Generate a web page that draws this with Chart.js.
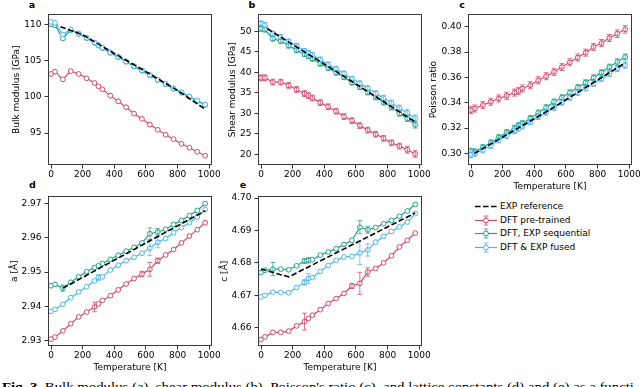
<!DOCTYPE html>
<html><head><meta charset="utf-8">
<script src="https://cdn.jsdelivr.net/npm/chart.js@4.4.1/dist/chart.umd.min.js"></script>
<style>
html,body{margin:0;padding:0;width:640px;height:387px;overflow:hidden;background:#fff;}
body{position:relative;font-family:'DejaVu Sans',sans-serif;color:#000;}
canvas{position:absolute;}
.plab{position:absolute;font-weight:bold;font-size:9.5px;line-height:10px;transform:translate(-50%,-50%);}
#legend{position:absolute;left:474px;top:200px;font-size:9px;}
.lrow{position:absolute;left:0;height:13px;white-space:nowrap;}
.lrow svg{position:absolute;left:0;top:0;}
.lrow span{position:absolute;left:26px;top:0;line-height:13px;}
#caption{position:absolute;left:2px;top:380px;white-space:nowrap;font-family:'Liberation Serif','DejaVu Serif',serif;font-size:12.5px;line-height:14px;transform-origin:0 0;}
</style></head><body>
<div class="plab" style="left:32px;top:5px">a</div>
<div class="plab" style="left:252px;top:5px">b</div>
<div class="plab" style="left:462px;top:5px">c</div>
<div class="plab" style="left:32.5px;top:185px">d</div>
<div class="plab" style="left:243px;top:185px">e</div>
<div id="legend"></div>
<div id="caption"><b>Fig. 3</b>&nbsp; Bulk modulus (a), shear modulus (b), Poisson's ratio (c), and lattice constants (d) and (e) as a functi</div>
<script>
// ---------------- data ----------------
const temps = [0, 25, 75, 125, 175, 225, 275, 300, 325, 375, 425, 475, 525, 575, 625, 675, 725, 775, 825, 875, 925, 975];
const xTicks = [0, 200, 400, 600, 800, 1000];
const seriesNames = ['EXP reference', 'DFT pre-trained', 'DFT, EXP sequential', 'DFT & EXP fused'];

// a: bulk modulus [GPa]
const bulkPre = [103.17, 103.49, 102.43, 103.58, 103.17, 102.57, 101.93, 101.47, 101.06, 100.18, 99.40, 98.58, 97.70, 96.97, 96.19, 95.46, 94.77, 94.17, 93.53, 92.98, 92.43, 91.88];
const bulkSeq = [110.05, 109.90, 108.07, 109.25, 108.72, 108.12, 107.47, 107.11, 106.74, 106.10, 105.50, 104.86, 104.22, 103.62, 102.98, 102.34, 101.74, 101.14, 100.59, 100.00, 99.45, 98.89];
const bulkFus = [110.37, 110.23, 108.62, 109.31, 108.76, 108.17, 107.52, 107.16, 106.79, 106.15, 105.55, 104.91, 104.27, 103.67, 103.03, 102.39, 101.79, 101.19, 100.64, 100.05, 99.50, 98.94];
const bulkExpT = [60, 200, 400, 600, 800, 975];
const bulkExp = [109.7, 108.6, 106.0, 103.5, 100.9, 98.3];
const bulkTicks = [95, 100, 105, 110];

// b: shear modulus [GPa]
const shearPre = [38.65, 38.65, 37.6, 37.6, 36.8, 35.8, 34.8, 34.3, 33.7, 32.6, 31.6, 30.5, 29.2, 28.2, 27.0, 25.9, 24.9, 23.9, 22.8, 22.0, 21.1, 20.1];
const shearSeq = [50.6, 50.4, 48.2, 47.6, 46.5, 45.4, 44.4, 43.9, 43.3, 42.1, 41.1, 39.9, 38.8, 37.5, 36.4, 35.1, 33.9, 32.7, 31.5, 30.0, 28.7, 27.2];
const shearFus = [51.9, 51.5, 49.4, 48.6, 47.5, 46.4, 45.2, 44.7, 44.2, 43.1, 41.9, 40.8, 39.7, 38.4, 37.3, 36.1, 34.8, 33.7, 32.5, 31.3, 30.1, 28.8];
const shearPreErr = [0.7, 0.7, 0.7, 0.7, 0.7, 0.7, 0.7, 0.7, 0.7, 0.7, 0.7, 0.7, 0.7, 0.7, 0.7, 0.7, 0.7, 0.7, 0.7, 0.7, 0.8, 0.8];
const shearSeqErr = [0.6, 0.6, 0.6, 0.6, 0.6, 0.6, 0.6, 0.6, 0.6, 0.6, 0.6, 0.6, 0.6, 0.6, 0.6, 0.6, 0.6, 0.7, 0.7, 0.7, 0.7, 0.8];
const shearFusErr = [0.6, 0.6, 0.6, 0.6, 0.6, 0.6, 0.6, 0.6, 0.6, 0.6, 0.6, 0.6, 0.6, 0.6, 0.6, 0.6, 0.7, 0.7, 0.7, 0.7, 0.8, 0.8];
const shearExpT = [40, 500, 975];
const shearExp = [50.6, 39.6, 27.9];
const shearTicks = [20, 25, 30, 35, 40, 45, 50];

// c: Poisson ratio
const poisPre = [0.3341, 0.3354, 0.3381, 0.3407, 0.3433, 0.3454, 0.3480, 0.3493, 0.3512, 0.3538, 0.3577, 0.3609, 0.3643, 0.3682, 0.3719, 0.3756, 0.3795, 0.3840, 0.3871, 0.3911, 0.3945, 0.3979];
const poisSeq = [0.3018, 0.3013, 0.3047, 0.3084, 0.3126, 0.3165, 0.3199, 0.3220, 0.3236, 0.3276, 0.3320, 0.3362, 0.3407, 0.3441, 0.3480, 0.3520, 0.3559, 0.3598, 0.3638, 0.3682, 0.3722, 0.3761];
const poisFus = [0.2987, 0.3000, 0.3026, 0.3060, 0.3105, 0.3139, 0.3178, 0.3197, 0.3215, 0.3249, 0.3289, 0.3323, 0.3362, 0.3402, 0.3441, 0.3480, 0.3514, 0.3551, 0.3590, 0.3630, 0.3669, 0.3696];
const poisPreErr = [0.0028, 0.0028, 0.0028, 0.0028, 0.0028, 0.0028, 0.0028, 0.0028, 0.0028, 0.0028, 0.0028, 0.0028, 0.0028, 0.0028, 0.0028, 0.0028, 0.0028, 0.0028, 0.0028, 0.0028, 0.0030, 0.0030];
const poisSeqErr = [0.0022, 0.0022, 0.0022, 0.0022, 0.0022, 0.0022, 0.0022, 0.0022, 0.0022, 0.0022, 0.0022, 0.0022, 0.0022, 0.0022, 0.0022, 0.0022, 0.0022, 0.0022, 0.0022, 0.0022, 0.0024, 0.0024];
const poisFusErr = [0.0022, 0.0022, 0.0022, 0.0022, 0.0022, 0.0022, 0.0022, 0.0022, 0.0022, 0.0022, 0.0022, 0.0022, 0.0022, 0.0022, 0.0022, 0.0022, 0.0022, 0.0022, 0.0022, 0.0022, 0.0024, 0.0024];
const poisExpT = [20, 500, 975];
const poisExp = [0.2998, 0.3345, 0.3715];
const poisTicks = [0.30, 0.32, 0.34, 0.36, 0.38, 0.40];

// d: lattice constant a [Å]
const aPre = [2.9304, 2.9310, 2.9328, 2.9349, 2.9369, 2.9383, 2.9398, 2.9407, 2.9417, 2.9431, 2.9448, 2.9465, 2.9481, 2.9494, 2.9508, 2.9533, 2.9550, 2.9566, 2.9585, 2.9605, 2.9624, 2.9644];
const aSeq = [2.9460, 2.9464, 2.9453, 2.9470, 2.9486, 2.9501, 2.9513, 2.9518, 2.9525, 2.9537, 2.9549, 2.9561, 2.9572, 2.9585, 2.9612, 2.9617, 2.9625, 2.9639, 2.9651, 2.9665, 2.9680, 2.9700];
const aFus = [2.9385, 2.9391, 2.9406, 2.9425, 2.9442, 2.9457, 2.9474, 2.9484, 2.9486, 2.9506, 2.9520, 2.9533, 2.9543, 2.9555, 2.9570, 2.9587, 2.9598, 2.9615, 2.9630, 2.9644, 2.9661, 2.9683];
const aPreErr = [0, 0, 0, 0, 0, 0, 0.0014, 0, 0, 0, 0, 0, 0, 0.0008, 0.0020, 0.0008, 0, 0, 0, 0, 0, 0];
const aSeqErr = [0, 0, 0.0009, 0, 0, 0, 0, 0, 0, 0, 0, 0, 0, 0, 0.0017, 0.0010, 0, 0, 0, 0, 0, 0];
const aFusErr = [0, 0, 0, 0, 0, 0, 0, 0.0008, 0, 0, 0, 0, 0, 0, 0.0022, 0.0016, 0, 0, 0, 0, 0, 0];
const aExpT = [75, 975];
const aExp = [2.9453, 2.9679];
const aTicks = [2.93, 2.94, 2.95, 2.96, 2.97];

// e: lattice constant c [Å]
const cPre = [4.6564, 4.6572, 4.6586, 4.6586, 4.6590, 4.6606, 4.6619, 4.6629, 4.6639, 4.6656, 4.6675, 4.6690, 4.6706, 4.6729, 4.6737, 4.6772, 4.6783, 4.6800, 4.6822, 4.6849, 4.6870, 4.6892];
const cSeq = [4.6770, 4.6777, 4.6781, 4.6781, 4.6779, 4.6791, 4.6806, 4.6808, 4.6810, 4.6824, 4.6834, 4.6844, 4.6857, 4.6870, 4.6910, 4.6902, 4.6909, 4.6921, 4.6931, 4.6944, 4.6960, 4.6980];
const cFus = [4.6695, 4.6700, 4.6710, 4.6709, 4.6708, 4.6724, 4.6740, 4.6752, 4.6755, 4.6774, 4.6792, 4.6808, 4.6818, 4.6820, 4.6831, 4.6840, 4.6864, 4.6882, 4.6897, 4.6911, 4.6926, 4.6952];
const cPreErr = [0, 0, 0, 0, 0, 0, 0.0026, 0, 0, 0, 0, 0, 0, 0.0008, 0.0034, 0.0013, 0, 0, 0, 0, 0, 0];
const cSeqErr = [0, 0, 0.0020, 0, 0, 0, 0.0007, 0.0008, 0, 0, 0, 0, 0, 0, 0.0020, 0.0010, 0, 0, 0, 0, 0, 0];
const cFusErr = [0, 0, 0, 0, 0, 0, 0.0008, 0.0015, 0, 0, 0, 0, 0, 0, 0.0036, 0.0019, 0, 0, 0, 0, 0, 0];
const cExpT = [0, 175, 975];
const cExp = [4.6781, 4.6757, 4.6954];
const cTicks = [4.66, 4.67, 4.68, 4.69, 4.70];

// ---------------- style ----------------
const RED = '#D0486A', GREEN = '#24A08A', BLUE = '#4DB4E8';
const RED_E = 'rgba(208,72,106,0.75)', GREEN_E = 'rgba(36,160,138,0.75)', BLUE_E = 'rgba(77,180,232,0.75)';
Chart.defaults.font.family = "'DejaVu Sans', sans-serif";
Chart.defaults.font.size = 9;
Chart.defaults.color = '#000';

const WY = 46, TP = 8, RP = 14, HX = 30;

const frame = {
  id: 'frame',
  afterDraw(chart) {
    const {ctx, chartArea: a} = chart;
    ctx.save();
    ctx.strokeStyle = '#3c3c3c';
    ctx.lineWidth = 1;
    ctx.strokeRect(Math.round(a.left) + 0.5, Math.round(a.top) + 0.5, Math.round(a.right - a.left) - 1, Math.round(a.bottom - a.top) - 1);
    ctx.restore();
  }
};
const errorBars = {
  id: 'errorBars',
  afterDatasetDraw(chart, args) {
    const ds = chart.data.datasets[args.index];
    if (!ds.errors) return;
    const {ctx, scales: {x, y}, chartArea: a} = chart;
    ctx.save();
    ctx.beginPath(); ctx.rect(a.left, a.top, a.right - a.left, a.bottom - a.top); ctx.clip();
    ctx.strokeStyle = ds.errColor; ctx.lineWidth = 1;
    ds.data.forEach((p, i) => {
      const e = ds.errors[i]; if (!e) return;
      const px = x.getPixelForValue(p.x), y1 = y.getPixelForValue(p.y - e), y2 = y.getPixelForValue(p.y + e);
      ctx.beginPath();
      ctx.moveTo(px, y1); ctx.lineTo(px, y2);
      ctx.moveTo(px - 2.5, y1); ctx.lineTo(px + 2.5, y1);
      ctx.moveTo(px - 2.5, y2); ctx.lineTo(px + 2.5, y2);
      ctx.stroke();
    });
    ctx.restore();
  }
};

function pts(xs, ys) { return xs.map((x, i) => ({x: x, y: ys[i]})); }
function modelDs(label, ys, errs, color, ecolor) {
  return {label, data: pts(temps, ys), errors: errs, errColor: ecolor, borderColor: color, backgroundColor: '#fff',
    borderWidth: 1.2, pointRadius: 2.4, pointBorderWidth: 1, pointBackgroundColor: '#fff', pointBorderColor: color, tension: 0};
}

function panel(cfg) {
  const c = document.createElement('canvas');
  const w = WY + (cfg.box[2] - cfg.box[0]) + RP;
  const h = TP + (cfg.box[3] - cfg.box[1]) + HX;
  c.width = w; c.height = h;
  c.style.left = (cfg.box[0] - WY) + 'px';
  c.style.top = (cfg.box[1] - TP) + 'px';
  c.style.width = w + 'px'; c.style.height = h + 'px';
  document.body.appendChild(c);
  const tickGrid = {display: true, drawOnChartArea: false, drawTicks: true, tickLength: 3.5, tickColor: '#333', tickWidth: 1, color: '#333'};
  new Chart(c, {
    type: 'line',
    data: {datasets: [
      {label: seriesNames[0], data: pts(cfg.expT, cfg.exp), borderColor: '#000', borderDash: [5.5, 2.5], borderWidth: 1.6, pointRadius: 0, tension: 0},
      modelDs(seriesNames[3], cfg.fus, cfg.fusErr, BLUE, BLUE_E),
      modelDs(seriesNames[2], cfg.seq, cfg.seqErr, GREEN, GREEN_E),
      modelDs(seriesNames[1], cfg.pre, cfg.preErr, RED, RED_E)
    ]},
    options: {
      responsive: false, animation: false, devicePixelRatio: 1,
      layout: {padding: {left: 0, top: TP, right: RP, bottom: 0}},
      plugins: {legend: {display: false}, tooltip: {enabled: false}},
      events: [],
      scales: {
        x: {type: 'linear', min: -19, max: 1018,
          afterBuildTicks: s => { s.ticks = xTicks.map(v => ({value: v})); },
          afterFit: s => { s.height = HX; },
          ticks: {padding: 1, maxRotation: 0, autoSkip: false, callback: v => String(v)},
          grid: tickGrid, border: {display: false},
          title: {display: !!cfg.xTitle, text: 'Temperature [K]', font: {size: 9}, padding: {top: 0, bottom: 3}}
        },
        y: {type: 'linear', min: cfg.yMin, max: cfg.yMax,
          afterBuildTicks: s => { s.ticks = cfg.yTicks.map(v => ({value: v})); },
          afterFit: s => { s.width = WY; },
          ticks: {padding: 3, autoSkip: false, callback: v => Number(v).toFixed(cfg.dec)},
          grid: tickGrid, border: {display: false},
          title: {display: true, text: cfg.yTitle, font: {size: 9}, padding: {top: cfg.tpad, bottom: 0}}
        }
      }
    },
    plugins: [errorBars, frame]
  });
}

panel({box: [48, 14, 212, 165], yMin: 90.6, yMax: 111.4, yTicks: bulkTicks, dec: 0, yTitle: 'Bulk modulus [GPa]', tpad: 9.6,
  pre: bulkPre, seq: bulkSeq, fus: bulkFus, preErr: null, seqErr: null, fusErr: null, expT: bulkExpT, exp: bulkExp});
panel({box: [258, 14, 422, 165], yMin: 17.4, yMax: 54.1, yTicks: shearTicks, dec: 0, yTitle: 'Shear modulus [GPa]', tpad: 15.3,
  pre: shearPre, seq: shearSeq, fus: shearFus, preErr: shearPreErr, seqErr: shearSeqErr, fusErr: shearFusErr, expT: shearExpT, exp: shearExp});
panel({box: [468, 14, 632, 165], yMin: 0.2908, yMax: 0.4097, yTicks: poisTicks, dec: 2, yTitle: 'Poisson ratio', tpad: 5.9, xTitle: true,
  pre: poisPre, seq: poisSeq, fus: poisFus, preErr: poisPreErr, seqErr: poisSeqErr, fusErr: poisFusErr, expT: poisExpT, exp: poisExp});
panel({box: [48, 196, 212, 346], yMin: 2.9284, yMax: 2.9721, yTicks: aTicks, dec: 2, yTitle: 'a [Å]', tpad: 7.6, xTitle: true,
  pre: aPre, seq: aSeq, fus: aFus, preErr: aPreErr, seqErr: aSeqErr, fusErr: aFusErr, expT: aExpT, exp: aExp});
panel({box: [258, 196, 422, 346], yMin: 4.6544, yMax: 4.7005, yTicks: cTicks, dec: 2, yTitle: 'c [Å]', tpad: 7.6, xTitle: true,
  pre: cPre, seq: cSeq, fus: cFus, preErr: cPreErr, seqErr: cSeqErr, fusErr: cFusErr, expT: cExpT, exp: cExp});

// legend
const legend = document.getElementById('legend');
const legColors = [null, [RED, RED_E], [GREEN, GREEN_E], [BLUE, BLUE_E]];
const rowTops = [0, 13.5, 27, 40.5];
seriesNames.forEach((name, i) => {
  const row = document.createElement('div');
  row.className = 'lrow';
  row.style.top = rowTops[i] + 'px';
  let svg;
  if (i === 0) {
    svg = '<svg width="24" height="13"><line x1="1" y1="6.5" x2="23" y2="6.5" stroke="#000" stroke-width="1.6" stroke-dasharray="5.5,2.5"/></svg>';
  } else {
    const [col, ecol] = legColors[i];
    svg = '<svg width="24" height="13"><line x1="1" y1="6.5" x2="23" y2="6.5" stroke="' + col + '" stroke-width="1.2"/>' +
      '<line x1="12" y1="2" x2="12" y2="11" stroke="' + ecol + '" stroke-width="1"/>' +
      '<line x1="9.5" y1="2" x2="14.5" y2="2" stroke="' + ecol + '" stroke-width="1"/>' +
      '<line x1="9.5" y1="11" x2="14.5" y2="11" stroke="' + ecol + '" stroke-width="1"/>' +
      '<circle cx="12" cy="6.5" r="2.4" fill="#fff" stroke="' + col + '" stroke-width="1"/></svg>';
  }
  row.innerHTML = svg + '<span>' + name + '</span>';
  legend.appendChild(row);
});

// caption fit
const cap = document.getElementById('caption');
const cw = cap.getBoundingClientRect().width;
cap.style.transform = 'scaleX(' + (632 / cw) + ')';
</script>
</body></html>
